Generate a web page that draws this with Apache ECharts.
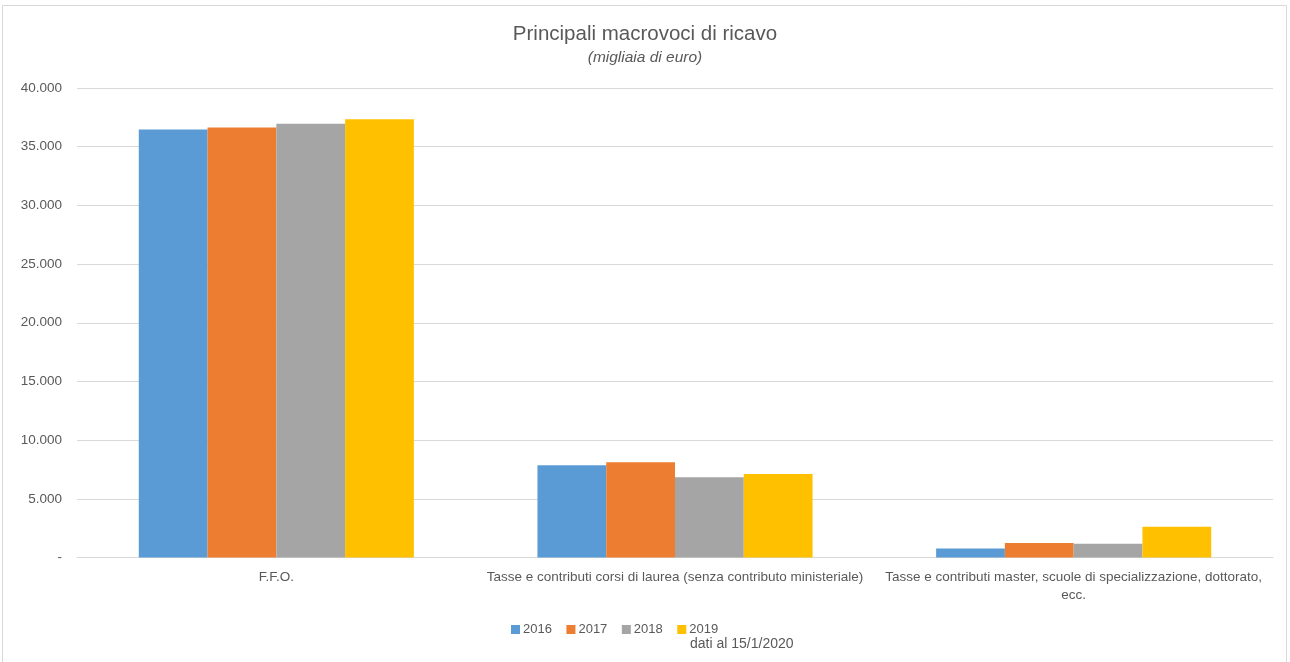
<!DOCTYPE html>
<html>
<head>
<meta charset="utf-8">
<script src="https://cdn.jsdelivr.net/npm/echarts@6/dist/echarts.min.js"></script>
<style>
  html, body { margin: 0; padding: 0; background: #fff; }
  #chart { width: 1290px; height: 662px; }
</style>
</head>
<body>
<div id="chart"></div>
<script>
// Revenue categories and yearly values (thousands of euro)
const categories = [
  'F.F.O.',
  'Tasse e contributi corsi di laurea (senza contributo ministeriale)',
  'Tasse e contributi master, scuole di specializzazione, dottorato,\necc.'
];
const years = ['2016', '2017', '2018', '2019'];
const values2016 = [36460, 7860, 765];
const values2017 = [36630, 8115, 1225];
const values2018 = [36945, 6838, 1165];
const values2019 = [37337, 7119, 2611];
const yTicks = [0, 5000, 10000, 15000, 20000, 25000, 30000, 35000, 40000];

const colors = ['#5B9BD5', '#ED7D31', '#A5A5A5', '#FFC000'];
const seriesValues = [values2016, values2017, values2018, values2019];
const FONT = 'Liberation Sans';
const TEXT = '#595959';

function fmt(v) {
  if (v === 0) return '-';
  return String(v).replace(/\B(?=(\d{3})+(?!\d))/g, '.');
}

const chart = echarts.init(document.getElementById('chart'));
chart.setOption({
  animation: false,
  color: colors,
  textStyle: { fontFamily: FONT },
  title: {
    text: 'Principali macrovoci di ricavo',
    subtext: '(migliaia di euro)',
    left: 'center',
    top: 19,
    itemGap: 5,
    textStyle: { fontFamily: FONT, fontSize: 20.5, fontWeight: 'normal', color: TEXT },
    subtextStyle: { fontFamily: FONT, fontSize: 15.5, fontStyle: 'italic', color: TEXT }
  },
  grid: { left: 77, right: 17, top: 88, bottom: 104.5, containLabel: false },
  legend: {
    data: years,
    left: 506,
    top: 618,
    itemWidth: 9,
    itemHeight: 9,
    itemGap: 14.5,
    icon: 'rect',
    textStyle: { fontFamily: FONT, fontSize: 13, color: TEXT, padding: [0, 0, 0, -2] }
  },
  xAxis: {
    type: 'category',
    data: categories,
    axisLine: { lineStyle: { color: '#D9D9D9' } },
    axisTick: { show: false },
    axisLabel: { color: TEXT, fontSize: 13.5, fontFamily: FONT, margin: 11, interval: 0, lineHeight: 18 }
  },
  yAxis: {
    type: 'value',
    min: 0,
    max: 40000,
    interval: 5000,
    axisLine: { show: false },
    axisTick: { show: false },
    splitLine: { lineStyle: { color: '#D9D9D9' } },
    axisLabel: {
      color: TEXT, fontSize: 13.5, fontFamily: FONT, margin: 15,
      formatter: v => yTicks.includes(v) ? fmt(v) : ''
    }
  },
  series: years.map((y, i) => ({
    name: y,
    type: 'bar',
    data: seriesValues[i],
    barGap: '0%',
    barCategoryGap: '31%'
  })),
  graphic: [
    {
      type: 'rect',
      shape: { x: 2.5, y: 5.5, width: 1284, height: 660 },
      style: { fill: 'none', stroke: '#D9D9D9', lineWidth: 1 },
      silent: true
    },
    {
      type: 'text',
      left: 690,
      top: 637,
      style: { text: 'dati al 15/1/2020', fill: TEXT, font: '14px ' + FONT }
    }
  ]
});
</script>
</body>
</html>
